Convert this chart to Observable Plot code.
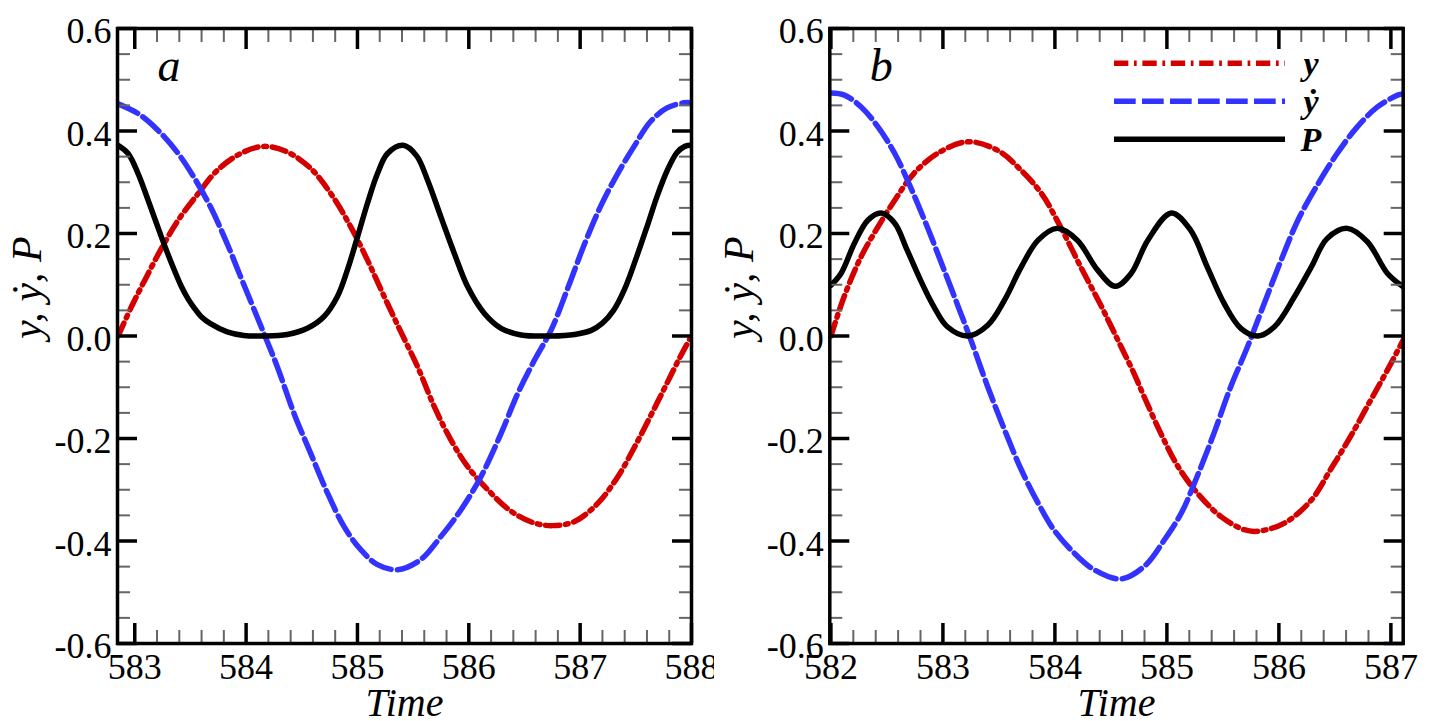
<!DOCTYPE html>
<html><head><meta charset="utf-8">
<script src="https://cdn.jsdelivr.net/npm/d3@7"></script>
<script src="https://cdn.jsdelivr.net/npm/@observablehq/plot@0.6"></script>
<style>
html,body{margin:0;padding:0;background:#fff;}
#wrap{position:relative;width:1429px;height:721px;overflow:hidden;background:#fff;}
#wrap > svg{position:absolute;top:0;}
</style></head>
<body><div id="wrap"></div>
<script>
// ---------- Panel a ----------
const tA_P = [582.85,582.94,583.03,583.12,583.24,583.33,583.42,583.48,583.53,583.60,583.68,583.83,583.98,584.16,584.37,584.55,584.70,584.82,584.91,585.00,585.09,585.18,585.27,585.41,585.53,585.63,585.75,585.87,585.99,586.14,586.29,586.47,586.74,586.95,587.10,587.20,587.30,587.40,587.50,587.60,587.69,587.78,587.87,587.94,588.00];
const vA_P = [0.372,0.356,0.317,0.265,0.193,0.142,0.096,0.072,0.056,0.037,0.024,0.008,0.001,0.000,0.003,0.015,0.038,0.077,0.129,0.193,0.259,0.317,0.356,0.372,0.352,0.304,0.232,0.161,0.096,0.044,0.015,0.002,0.000,0.003,0.011,0.025,0.050,0.092,0.150,0.213,0.272,0.322,0.358,0.370,0.372];

const tA_y = [582.85,582.97,583.09,583.24,583.39,583.57,583.74,583.95,584.16,584.37,584.58,584.76,584.94,585.09,585.24,585.39,585.54,585.69,585.84,585.99,586.17,586.38,586.59,586.75,586.95,587.16,587.34,587.49,587.63,587.78,587.90,588.00];
const vA_y = [0.000,0.057,0.109,0.171,0.226,0.278,0.323,0.356,0.370,0.359,0.327,0.278,0.213,0.148,0.077,0.008,-0.060,-0.138,-0.203,-0.255,-0.300,-0.342,-0.365,-0.370,-0.362,-0.326,-0.274,-0.216,-0.157,-0.092,-0.040,0.000];

const tA_yd = [582.85,583.03,583.21,583.39,583.53,583.68,583.83,583.98,584.16,584.28,584.43,584.58,584.73,584.88,585.03,585.18,585.36,585.57,585.75,585.93,586.11,586.29,586.44,586.59,586.74,586.89,587.04,587.19,587.34,587.49,587.63,587.78,587.93,588.00];
const vA_yd = [0.453,0.434,0.401,0.356,0.310,0.252,0.180,0.100,0.005,-0.060,-0.151,-0.229,-0.306,-0.372,-0.417,-0.446,-0.456,-0.436,-0.391,-0.339,-0.274,-0.190,-0.112,-0.047,0.012,0.094,0.180,0.256,0.318,0.372,0.418,0.445,0.455,0.455];

// ---------- Panel b ----------
const tB_P = [582.00,582.09,582.21,582.33,582.45,582.57,582.68,582.80,582.92,583.04,583.22,583.40,583.55,583.70,583.85,584.02,584.20,584.38,584.54,584.68,584.83,585.04,585.21,585.36,585.51,585.66,585.81,585.96,586.14,586.29,586.43,586.61,586.79,586.97,587.11];
const vB_P = [0.099,0.122,0.181,0.226,0.240,0.220,0.168,0.109,0.057,0.018,0.000,0.021,0.070,0.135,0.187,0.210,0.187,0.129,0.097,0.122,0.187,0.240,0.207,0.135,0.064,0.015,0.000,0.018,0.077,0.135,0.190,0.210,0.184,0.122,0.096];

const tB_y = [582.00,582.12,582.27,582.42,582.57,582.74,582.95,583.22,583.49,583.70,583.88,584.05,584.23,584.41,584.50,584.60,584.70,584.80,584.95,585.10,585.27,585.48,585.69,585.81,586.05,586.29,586.46,586.64,586.82,586.97,587.11];
const vB_y = [0.000,0.078,0.155,0.213,0.265,0.317,0.356,0.379,0.362,0.323,0.278,0.213,0.135,0.060,0.020,-0.025,-0.070,-0.120,-0.192,-0.255,-0.306,-0.352,-0.378,-0.381,-0.365,-0.320,-0.261,-0.196,-0.125,-0.066,-0.008];

const tB_yd = [582.00,582.12,582.27,582.42,582.57,582.71,582.86,583.01,583.16,583.25,583.40,583.55,583.70,583.85,583.99,584.17,584.35,584.59,584.80,584.98,585.13,585.27,585.42,585.57,585.72,585.87,586.02,586.17,586.35,586.52,586.70,586.88,587.06,587.11];
const vB_yd = [0.474,0.470,0.447,0.408,0.356,0.291,0.213,0.129,0.044,-0.008,-0.099,-0.183,-0.261,-0.326,-0.378,-0.423,-0.456,-0.474,-0.449,-0.397,-0.345,-0.274,-0.190,-0.099,-0.021,0.064,0.148,0.226,0.297,0.356,0.408,0.447,0.470,0.473];

// ---------- Axes / labels ----------
const xMajorA = [583,584,585,586,587,588];
const xMajorB = [582,583,584,585,586,587];
const yMajor = [-0.6,-0.4,-0.2,0.0,0.2,0.4,0.6];
const panelLetters = ["a","b"];
const xLabel = "Time";
const yLabel = "y, \u1E8F, P";
const seriesNames = ["y","\u1E8F","P"];

const RED = "#d40000", BLUE = "#3333ff", BLACK = "#000000";
const DASHDOT = "14.3,5.7,2.7,5.7", DASH = "21.7,6.3";
const SERIF = "Liberation Serif";

function rows(t, v){ return t.map((d,i)=>({t:d, v:v[i]})); }

function panel({P, Y, YD, domain, xMajor, letter, width, marginLeft, marginRight}) {
  const xMinor = d3.range(Math.ceil(domain[0]*5 - 1e-9), Math.floor(domain[1]*5 + 1e-9)+1)
    .map(k=>k/5).filter(d => !xMajor.some(m=>Math.abs(m-d)<1e-6) && d>=domain[0] && d<=domain[1]);
  const yMinor = d3.range(-12,13).map(k=>k/20).filter(d => Math.abs(d*5-Math.round(d*5))>1e-6);
  const tickOpts = (size, sw, col) => ({tickSize:size, strokeWidth:sw, stroke:col, tickFormat:()=>"", label:null});
  return Plot.plot({
    width, height:721,
    marginLeft, marginRight, marginTop:28, marginBottom:78,
    style:{background:"#fff", color:"#000"},
    x:{domain, axis:null},
    y:{domain:[-0.6,0.6], axis:null},
    marks:[
      Plot.line(rows(Y[0],Y[1]), {x:"t", y:"v", stroke:RED, strokeWidth:5.5, strokeDasharray:DASHDOT, curve:"catmull-rom", clip:true}),
      Plot.line(rows(YD[0],YD[1]), {x:"t", y:"v", stroke:BLUE, strokeWidth:5.5, strokeDasharray:DASH, curve:"catmull-rom", clip:true}),
      Plot.line(rows(P[0],P[1]), {x:"t", y:"v", stroke:BLACK, strokeWidth:5.5, curve:"catmull-rom", clip:true}),
      Plot.axisX(xMinor, {anchor:"bottom", ...tickOpts(-13,2,"#666")}),
      Plot.axisX(xMinor, {anchor:"top", ...tickOpts(-13,2,"#666")}),
      Plot.axisY(yMinor, {anchor:"left", ...tickOpts(-13,2,"#666")}),
      Plot.axisY(yMinor, {anchor:"right", ...tickOpts(-13,2,"#666")}),
      Plot.axisX(xMajor, {anchor:"bottom", ...tickOpts(-20,3.5,"#000")}),
      Plot.axisX(xMajor, {anchor:"top", ...tickOpts(-20,3.5,"#000")}),
      Plot.axisY(yMajor, {anchor:"left", ...tickOpts(-20,3.5,"#000")}),
      Plot.axisY(yMajor, {anchor:"right", ...tickOpts(-20,3.5,"#000")}),
      Plot.frame({stroke:"#000", strokeWidth:3.5}),
      Plot.axisX(xMajor, {anchor:"bottom", tickSize:0, tickPadding:10, fontSize:36, fill:"#000", tickFormat:d=>String(d), label:null}),
      Plot.axisY(yMajor, {anchor:"left", tickSize:0, tickPadding:6, fontSize:36, fill:"#000", dy:3, tickFormat:d=>d.toFixed(1), label:null}),
      Plot.text([xLabel], {text:d=>d, frameAnchor:"bottom", dy:72, lineAnchor:"bottom", fontSize:40, fontStyle:"italic", fill:"#000"}),
      Plot.text([yLabel], {text:d=>d, frameAnchor:"left", rotate:-90, dx:-77, dy:3, lineAnchor:"bottom", fontSize:42, fontStyle:"italic", fill:"#000"}),
      Plot.text([letter], {text:d=>d, frameAnchor:"top-left", dx:40, dy:52, textAnchor:"start", lineAnchor:"bottom", fontSize:46, fontStyle:"italic", fill:"#000"})
    ]
  });
}

const wrap = document.getElementById("wrap");

const svgB = panel({P:[tB_P,vB_P], Y:[tB_y,vB_y], YD:[tB_yd,vB_yd], domain:[581.99,587.11], xMajor:xMajorB, letter:panelLetters[1], width:715, marginLeft:115.3, marginRight:26.3});
svgB.style.left = "714px";
wrap.appendChild(svgB);

const svgA = panel({P:[tA_P,vA_P], Y:[tA_y,vA_y], YD:[tA_yd,vA_yd], domain:[582.845,588.0], xMajor:xMajorA, letter:panelLetters[0], width:714, marginLeft:117, marginRight:23});
svgA.style.left = "0px";
wrap.appendChild(svgA);

// Legend (panel b, top-right)
const legendItems = [
  {name:seriesNames[0], stroke:RED, dash:DASHDOT},
  {name:seriesNames[1], stroke:BLUE, dash:DASH},
  {name:seriesNames[2], stroke:BLACK, dash:null}
];
const lg = d3.select(svgB).append("g").attr("class","legend");
legendItems.forEach((d,i)=>{
  const yy = 63.3 + i*38;
  lg.append("line").attr("x1",400).attr("x2",571).attr("y1",yy).attr("y2",yy)
    .attr("stroke",d.stroke).attr("stroke-width",5.5).attr("stroke-dasharray",d.dash);
  lg.append("text").attr("x",597).attr("y",yy+11.5).text(d.name)
    .attr("font-size",34).attr("font-style","italic").attr("font-weight","bold").attr("fill","#000");
});

// serif family on every text element
d3.selectAll("#wrap svg").attr("font-family", SERIF).style("font-family", SERIF);
d3.selectAll("#wrap svg g").attr("font-family", null);
d3.selectAll("#wrap svg text").attr("font-family", SERIF).style("font-family", SERIF).attr("font-variant", null).style("font-variant", "normal");
</script>
</body></html>
